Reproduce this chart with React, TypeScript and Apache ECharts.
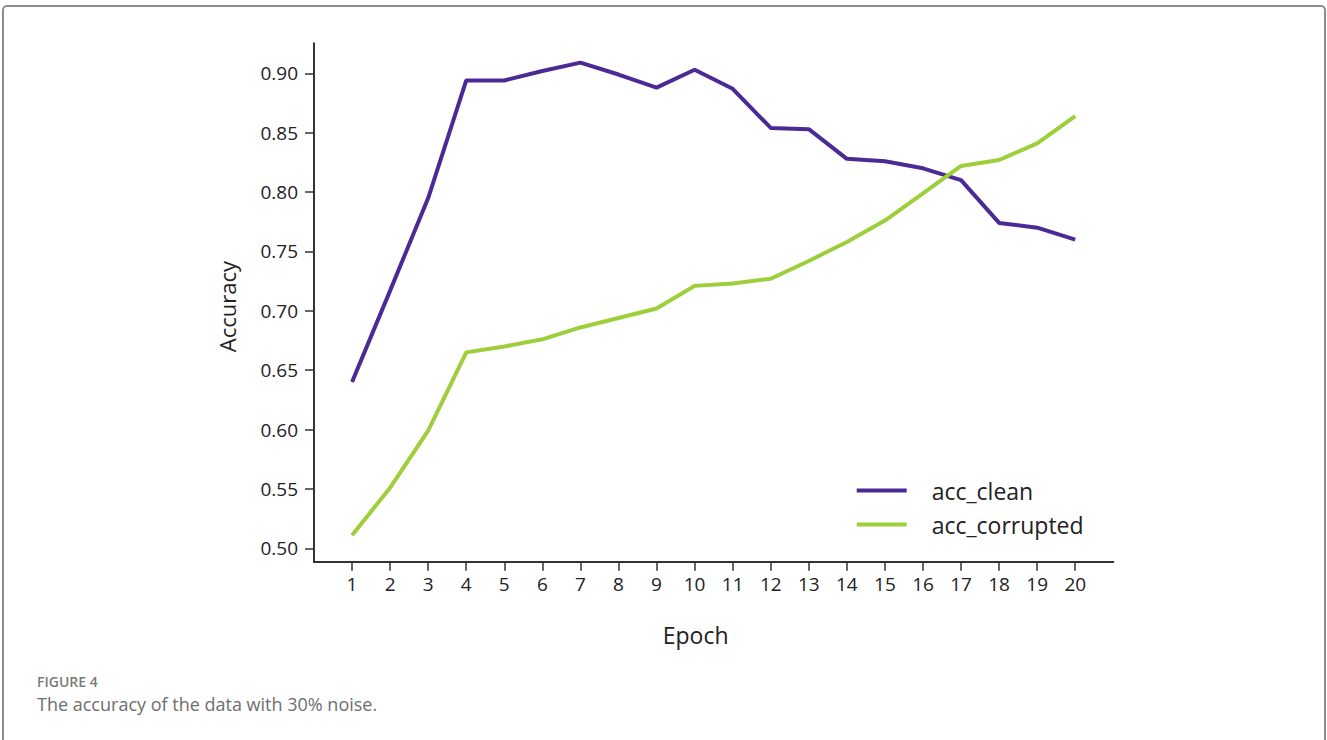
import React, { useEffect, useRef } from "react";
import * as echarts from "echarts";

const epochs = [1, 2, 3, 4, 5, 6, 7, 8, 9, 10, 11, 12, 13, 14, 15, 16, 17, 18, 19, 20];
const accClean = [0.640, 0.717, 0.795, 0.894, 0.894, 0.902, 0.909, 0.899, 0.888, 0.903, 0.887, 0.854, 0.853, 0.828, 0.826, 0.820, 0.810, 0.774, 0.770, 0.760];
const accCorrupted = [0.511, 0.551, 0.599, 0.665, 0.670, 0.676, 0.686, 0.694, 0.702, 0.721, 0.723, 0.727, 0.742, 0.758, 0.776, 0.799, 0.822, 0.827, 0.841, 0.864];
const yTicks = [0.5, 0.55, 0.6, 0.65, 0.7, 0.75, 0.8, 0.85, 0.9];
const seriesNames = ["acc_clean", "acc_corrupted"];
const colors = ["#4b2a96", "#9ccf3a"];

const FONT = "'Open Sans', 'Noto Sans', sans-serif";

export default function App() {
  const ref = useRef<HTMLDivElement>(null);
  useEffect(() => {
    if (!ref.current) return;
    const chart = echarts.init(ref.current, null, { renderer: "svg" });
    chart.setOption({
      animation: false,
      backgroundColor: "#ffffff",
      textStyle: { fontFamily: FONT },
      grid: { left: 314, top: 43.3, right: 213.7, bottom: 178.3, containLabel: false },
      xAxis: {
        type: "value",
        min: 0,
        max: 21,
        name: "Epoch",
        nameLocation: "middle",
        nameGap: 62,
        nameTextStyle: { fontSize: 23, color: "#222", fontFamily: FONT, padding: [0, 36, 0, 0] },
        axisLine: { show: true, onZero: false, lineStyle: { color: "#333", width: 2 } },
        axisTick: { show: true, length: 9, customValues: epochs, lineStyle: { color: "#333", width: 1.5 } },
        axisLabel: {
          customValues: epochs,
          fontSize: 19,
          color: "#222",
          margin: 13,
          fontFamily: FONT,
        },
        splitLine: { show: false },
      },
      yAxis: {
        type: "value",
        min: 0.4887,
        max: 0.9253,
        name: "Accuracy",
        nameLocation: "middle",
        nameGap: 76,
        nameRotate: 90,
        nameTextStyle: { fontSize: 22, color: "#222", fontFamily: FONT, padding: [0, 8, 0, 0] },
        axisLine: { show: true, onZero: false, lineStyle: { color: "#333", width: 2 } },
        axisTick: { show: true, length: 9, customValues: yTicks, lineStyle: { color: "#333", width: 1.5 } },
        axisLabel: {
          customValues: yTicks,
          formatter: (v: number) => v.toFixed(2),
          fontSize: 19,
          color: "#222",
          margin: 16,
          fontFamily: FONT,
        },
        splitLine: { show: false },
      },
      legend: {
        orient: "vertical",
        left: 856.7,
        top: 479,
        padding: 0,
        itemWidth: 50,
        itemHeight: 4,
        itemGap: 11,
        icon: "rect",
        data: seriesNames,
        textStyle: { fontSize: 23, color: "#222", padding: [0, 0, 0, 20], fontFamily: FONT },
      },
      series: [
        {
          name: seriesNames[0],
          type: "line",
          symbol: "none",
          data: epochs.map((e, i) => [e, accClean[i]]),
          lineStyle: { color: colors[0], width: 4 },
          itemStyle: { color: colors[0] },
        },
        {
          name: seriesNames[1],
          type: "line",
          symbol: "none",
          data: epochs.map((e, i) => [e, accCorrupted[i]]),
          lineStyle: { color: colors[1], width: 4 },
          itemStyle: { color: colors[1] },
        },
      ],
      graphic: [
        {
          type: "rect",
          silent: true,
          shape: { x: 3, y: 6, width: 1322, height: 800, r: 4 },
          style: { fill: "none", stroke: "#8c8c8c", lineWidth: 2 },
        },
        {
          type: "text",
          left: 37,
          top: 674,
          style: { text: "FIGURE 4", fontSize: 14, fontWeight: 600, fill: "#7a7a7a", fontFamily: FONT },
        },
        {
          type: "text",
          left: 37,
          top: 695,
          style: { text: "The accuracy of the data with 30% noise.", fontSize: 18, fill: "#6e6e6e", fontFamily: FONT },
        },
      ],
    });
    return () => chart.dispose();
  }, []);
  return (
    <div
      ref={ref}
      style={{ position: "absolute", left: 0, top: 0, width: 1327, height: 740 }}
    />
  );
}
